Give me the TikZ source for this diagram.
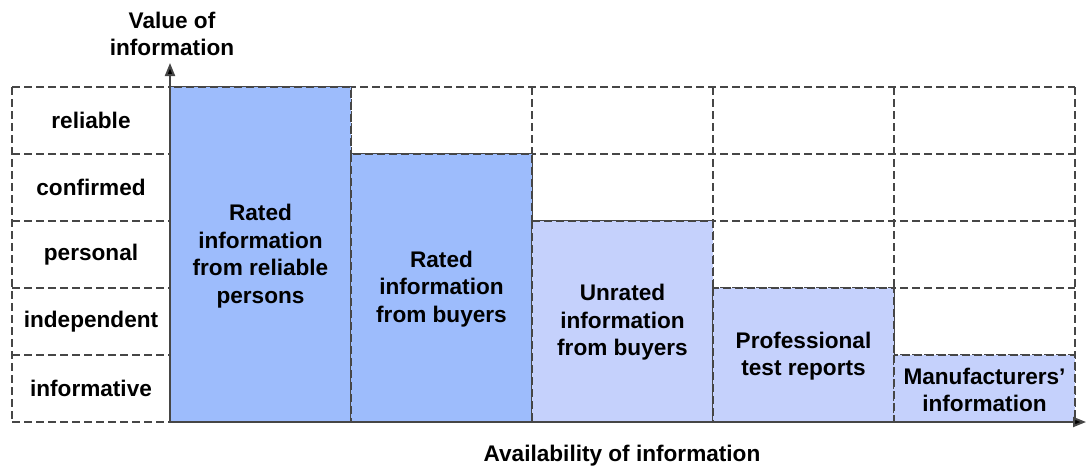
\documentclass[tikz,border=0pt]{standalone}
\usepackage{fontspec}
\setmainfont{Liberation Sans}
\usepackage{xcolor}
\usetikzlibrary{arrows.meta}

\definecolor{barhigh}{RGB}{157,188,252}
\definecolor{barlow}{RGB}{197,209,252}
\definecolor{gridgray}{RGB}{70,70,70}

\begin{document}
\begin{tikzpicture}[x=0.5pt, y=-0.5pt,
    font=\bfseries\fontsize{11.3}{13.8}\selectfont,
    gridline/.style={
        draw=gridgray,
        line width=0.6pt,
        dash pattern=on 4pt off 2pt
    },
    bar/.style={
        gridline,
        fill=#1
    },
    bartext/.style={
        align=center,
        text=black
    },
    rowlabel/.style={
        anchor=center
    },
    axis/.style={
        draw=gridgray,
        line width=1pt,
        -{Triangle[length=6.5pt,width=5pt,fill=black]}
    }
]
\useasboundingbox (0,0) rectangle (1086,468);

% ===== GRID =====
\foreach \yy in {87,154,221,288,355}
    \draw[gridline] (12,\yy) -- (1075,\yy);
\draw[gridline] (12,422) -- (170,422);
\foreach \xx in {12,351,532,713,894,1075}
    \draw[gridline] (\xx,87) -- (\xx,422);

% ===== BARS =====
\path[bar=barhigh] (170,87) rectangle (351,422);
\path[bar=barhigh] (351,154) rectangle (532,422);
\path[bar=barlow] (532,221) rectangle (713,422);
\path[bar=barlow] (713,288) rectangle (894,422);
\path[bar=barlow] (894,355) rectangle (1075,422);

\node[bartext] (reliablepers) at (260.5,256) {Rated\\information\\from reliable\\persons};
\node[bartext] (ratedbuyers) at (441.5,289) {Rated\\information\\from buyers};
\node[bartext] (unratedbuyers) at (622.5,322.5) {Unrated\\information\\from buyers};
\node[bartext] (testreports) at (803.5,356) {Professional\\test reports};
\node[bartext] (manufacturers) at (984.5,390) {Manufacturers'\\information};

% ===== ROW LABELS =====
\node[rowlabel] (reliable) at (91,120.5) {reliable};
\node[rowlabel] (confirmed) at (91,187.5) {confirmed};
\node[rowlabel] (personal) at (91,254.5) {personal};
\node[rowlabel] (independent) at (91,321.5) {independent};
\node[rowlabel] (informative) at (91,388.5) {informative};

% ===== AXES =====
\coordinate (origin) at (170,422);
\coordinate (ytip) at (170,63);
\coordinate (xtip) at (1086,422);
\draw[axis] (origin) -- (ytip);
\draw[axis] (origin) -- (xtip);

\node[align=center] (valuelabel) at (172,34) {Value of\\information};
\node (availlabel) at (622,456) {Availability of information};

\end{tikzpicture}
\end{document}
